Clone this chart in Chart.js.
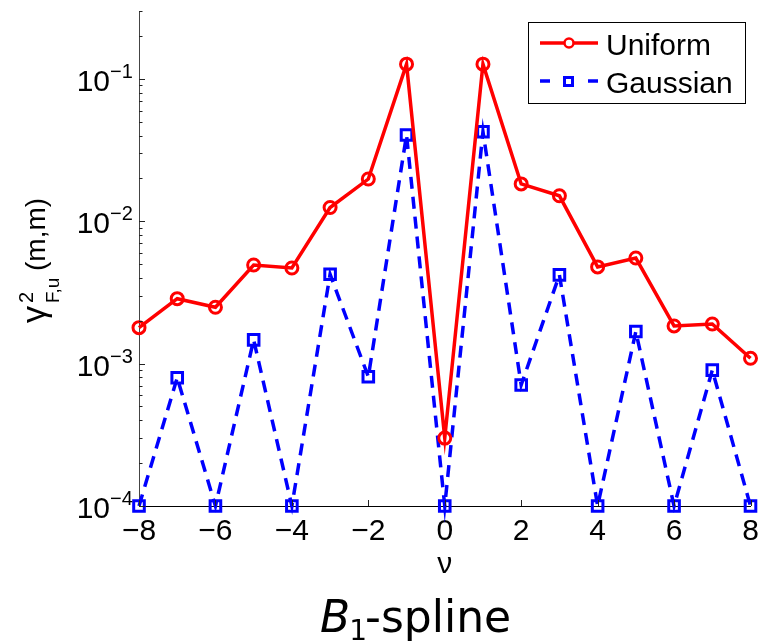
<!DOCTYPE html>
<html><head><meta charset="utf-8">
<script src="https://cdn.jsdelivr.net/npm/chart.js@4"></script>
<style>html,body{margin:0;padding:0;background:#fff;overflow:hidden}#wrap{width:761px;height:644px;position:relative}</style>
</head><body><div id="wrap"><canvas id="c" width="761" height="644"></canvas></div>
<script>
const nu = [-8,-7,-6,-5,-4,-3,-2,-1,0,1,2,3,4,5,6,7,8];
const uniform = [1.79e-3, 2.86e-3, 2.49e-3, 4.93e-3, 4.70e-3, 1.25e-2, 1.98e-2, 0.127, 3.0e-4, 0.127, 1.83e-2, 1.51e-2, 4.78e-3, 5.52e-3, 1.84e-3, 1.9e-3, 1.09e-3];
const gaussian = [1e-4, 7.96e-4, 1e-4, 1.47e-3, 1e-4, 4.25e-3, 8.09e-4, 0.0404, 1e-4, 0.0426, 7.08e-4, 4.2e-3, 1e-4, 1.68e-3, 1e-4, 9.0e-4, 1e-4];
const xTicks = [-8,-6,-4,-2,0,2,4,6,8];
const yDecades = [-4,-3,-2,-1];
const seriesNames = ['Uniform','Gaussian'];
const xLabel = '\u03BD';
const titleMain = 'B';
const titleSub = '1';
const titleRest = '-spline';

const RED = '#ff0000', BLUE = '#0000ff';
const FONT = "'Liberation Sans', Arial, sans-serif";

const drawPlugin = {
  id: 'extras',
  afterDraw(chart) {
    const ctx = chart.ctx;
    const ca = chart.chartArea;
    const ys = chart.scales.y, xs = chart.scales.x;
    ctx.save();
    // y ticks (inward), major + minor
    ctx.strokeStyle = '#222'; ctx.lineWidth = 1;
    for (const p of yDecades) {
      for (let m = 1; m <= 9; m++) {
        const v = m * Math.pow(10, p);
        if (v > ys.max * 1.0001) continue;
        const y = Math.round(ys.getPixelForValue(v)) + 0.5;
        const len = m === 1 ? 6 : 3.5;
        ctx.beginPath(); ctx.moveTo(ca.left, y); ctx.lineTo(ca.left + len, y); ctx.stroke();
      }
    }
    // x ticks (inward)
    for (const t of xTicks) {
      const x = Math.round(xs.getPixelForValue(t)) + 0.5;
      ctx.beginPath(); ctx.moveTo(x, ca.bottom); ctx.lineTo(x, ca.bottom - 6); ctx.stroke();
    }
    // y tick labels 10^p
    ctx.fillStyle = '#000';
    for (const p of yDecades) {
      const y = ys.getPixelForValue(Math.pow(10, p));
      ctx.font = '30px ' + FONT; ctx.textAlign = 'right'; ctx.textBaseline = 'alphabetic';
      ctx.fillText('10', 110, y + 12);
      ctx.font = '20px ' + FONT; ctx.textAlign = 'left';
      ctx.fillText('\u2212' + Math.abs(p), 110, y - 1);
    }
    // y axis title
    ctx.save();
    ctx.translate(45, 323); ctx.rotate(-Math.PI / 2);
    ctx.textAlign = 'left'; ctx.textBaseline = 'alphabetic';
    ctx.font = '34px ' + FONT; ctx.fillText('\u03B3', 0, 0);
    ctx.font = '20px ' + FONT; ctx.fillText('2', 20, -12);
    ctx.font = '19px ' + FONT; ctx.fillText('F,u', 20, 14);
    ctx.font = '28px ' + FONT; ctx.fillText('(m,m)', 52, 0);
    ctx.restore();
    // legend
    ctx.fillStyle = '#fff'; ctx.fillRect(528, 22, 217, 81);
    ctx.strokeStyle = '#000'; ctx.lineWidth = 1; ctx.strokeRect(528.5, 22.5, 217, 81);
    ctx.strokeStyle = RED; ctx.lineWidth = 3.5;
    ctx.beginPath(); ctx.moveTo(540, 43); ctx.lineTo(598, 43); ctx.stroke();
    ctx.fillStyle = '#fff'; ctx.lineWidth = 2.5;
    ctx.beginPath(); ctx.arc(569, 43, 4.5, 0, Math.PI * 2); ctx.fill(); ctx.stroke();
    ctx.strokeStyle = BLUE; ctx.lineWidth = 3.5;
    ctx.beginPath(); ctx.moveTo(540, 81); ctx.lineTo(550, 81); ctx.moveTo(588, 81); ctx.lineTo(598, 81); ctx.stroke();
    ctx.lineWidth = 3;
    ctx.strokeRect(564.5, 77.5, 8, 8);
    ctx.fillStyle = '#000'; ctx.font = '30px ' + FONT; ctx.textAlign = 'left';
    ctx.fillText(seriesNames[0], 606, 55);
    ctx.fillText(seriesNames[1], 606, 93);
    // title
    ctx.font = "oblique 44px 'DejaVu Sans'";
    ctx.fillText(titleMain, 320, 632);
    let x = 320 + ctx.measureText(titleMain).width + 1;
    ctx.font = "28px 'DejaVu Sans'";
    ctx.fillText(titleSub, x - 2, 640);
    x += ctx.measureText(titleSub).width - 4;
    ctx.font = "44px 'DejaVu Sans'";
    ctx.fillText(titleRest, x, 632);
    ctx.restore();
  }
};

new Chart(document.getElementById('c'), {
  type: 'line',
  data: {
    datasets: [
      {
        label: seriesNames[0],
        data: nu.map((v, i) => ({x: v, y: uniform[i]})),
        borderColor: RED, borderWidth: 3.5,
        pointStyle: 'circle', pointRadius: 6, pointBorderWidth: 3,
        pointBorderColor: RED, pointBackgroundColor: 'rgba(0,0,0,0)',
        tension: 0, clip: false
      },
      {
        label: seriesNames[1],
        data: nu.map((v, i) => ({x: v, y: gaussian[i]})),
        borderColor: BLUE, borderWidth: 3.5, borderDash: [12, 8],
        pointStyle: 'rect', pointRadius: 7.5, pointBorderWidth: 3,
        pointBorderColor: BLUE, pointBackgroundColor: 'rgba(0,0,0,0)',
        tension: 0, clip: false
      }
    ]
  },
  options: {
    responsive: false, animation: false, devicePixelRatio: 1,
    layout: { padding: { top: 11, right: 7, bottom: 60, left: 0 } },
    plugins: { legend: { display: false }, title: { display: false }, tooltip: { enabled: false } },
    scales: {
      x: {
        type: 'linear', min: -8, max: 8,
        grid: { display: false, drawTicks: false },
        border: { display: true, color: '#000', width: 1 },
        afterBuildTicks: s => { s.ticks = xTicks.map(v => ({value: v})); },
        ticks: {
          font: { size: 30, family: FONT }, color: '#000', padding: 8, maxRotation: 0, autoSkip: false,
          callback: v => String(v).replace('-', '\u2212')
        },
        title: { display: true, text: xLabel, font: { size: 30, family: FONT }, color: '#000', padding: { top: 0, bottom: 1 } },
        afterFit: s => { s.height = 78; s.paddingLeft = 0; s.paddingRight = 0; }
      },
      y: {
        type: 'logarithmic', min: 1e-4, max: 0.3,
        grid: { display: false, drawTicks: false },
        border: { display: true, color: '#444', width: 1 },
        ticks: { display: false },
        afterFit: s => { s.width = 139; s.paddingTop = 0; s.paddingBottom = 0; }
      }
    }
  },
  plugins: [drawPlugin]
});
</script>
</body></html>
